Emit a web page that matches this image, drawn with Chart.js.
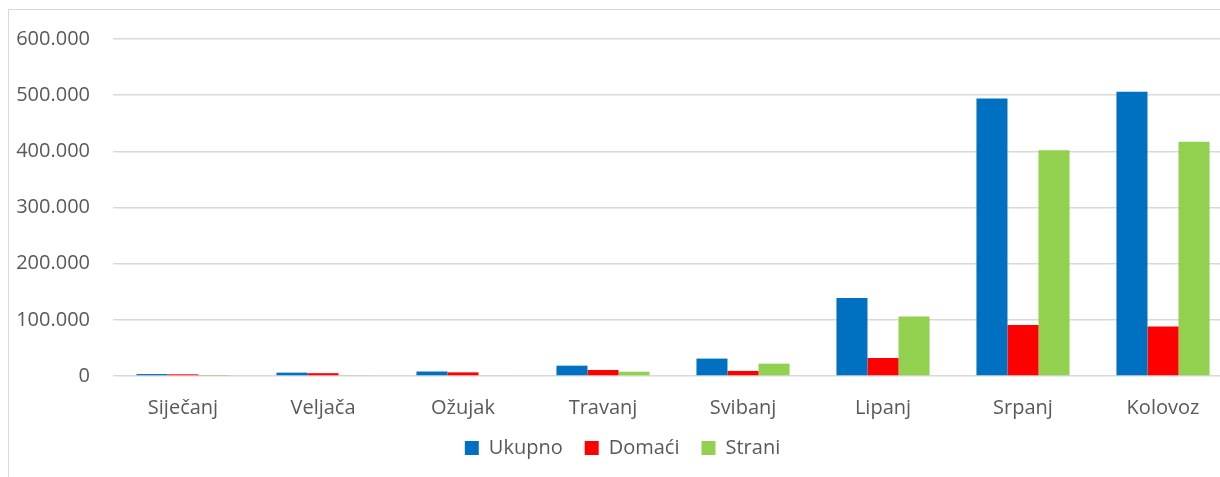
<!DOCTYPE html>
<html>
<head>
<meta charset="utf-8">
<script src="https://cdn.jsdelivr.net/npm/chart.js@4"></script>
<style>
  body { margin: 0; background: #fff; }
  #wrap { position: relative; width: 1220px; height: 477px; overflow: hidden; }
  #frame { position: absolute; left: 8px; top: 9px; width: 1300px; height: 600px; border-left: 1px solid #d9d9d9; border-top: 1px solid #d9d9d9; }
  canvas { position: absolute; left: 0; top: 0; }
</style>
</head>
<body>
<div id="wrap">
  <div id="frame"></div>
  <canvas id="barChart" width="1233" height="477"></canvas>
</div>
<script>
var months = ['Siječanj', 'Veljača', 'Ožujak', 'Travanj', 'Svibanj', 'Lipanj', 'Srpanj', 'Kolovoz'];
var ukupno = [3500, 6000, 8000, 18400, 31000, 139000, 494000, 506000];
var domaci = [3000, 5000, 6500, 10700, 9000, 32000, 91000, 88000];
var strani = [500, 1000, 1500, 7700, 22000, 106000, 402000, 417000];

var textColor = '#595959';
var fontFamily = '"Open Sans", sans-serif';

function dots(v) {
    return String(v).replace(/\B(?=(\d{3})+(?!\d))/g, '.');
}

// legend: take less room from the layout, then move it into place
var legendTweak = {
    id: 'legendTweak',
    beforeInit: function (chart) {
        var legend = chart.legend;
        if (!legend) return;
        var fit = legend.fit;
        legend.fit = function () {
            fit.call(this);
            this.height -= 16;
        };
    },
    afterLayout: function (chart) {
        var l = chart.legend;
        l.left += 6;
        l.right += 6;
        l.top -= 16;
    }
};

var ctx = document.getElementById('barChart').getContext('2d');
var myChart = new Chart(ctx, {
    type: 'bar',
    data: {
        labels: months,
        datasets: [{
            label: 'Ukupno',
            data: ukupno,
            backgroundColor: '#0070c0'
        }, {
            label: 'Domaći',
            data: domaci,
            backgroundColor: '#ff0000'
        }, {
            label: 'Strani',
            data: strani,
            backgroundColor: '#92d050'
        }]
    },
    plugins: [legendTweak],
    options: {
        responsive: false,
        animation: false,
        categoryPercentage: 0.665,
        barPercentage: 1,
        layout: {
            padding: { left: 0, right: 0, top: 39, bottom: 9 }
        },
        plugins: {
            tooltip: { enabled: false },
            legend: {
                position: 'bottom',
                labels: {
                    color: textColor,
                    font: { family: fontFamily, size: 20 },
                    boxWidth: 14,
                    boxHeight: 14,
                    padding: 22
                }
            }
        },
        scales: {
            x: {
                grid: { display: false },
                border: { display: false },
                ticks: {
                    color: textColor,
                    font: { family: fontFamily, size: 20 },
                    padding: 12
                }
            },
            y: {
                min: 0,
                max: 600000,
                grid: { color: '#d9d9d9', lineWidth: 1.5, drawTicks: false },
                border: { display: false },
                afterFit: function (scale) { scale.width = 113; },
                ticks: {
                    stepSize: 100000,
                    color: textColor,
                    font: { family: fontFamily, size: 20 },
                    padding: 23,
                    callback: function (v) { return dots(v); }
                }
            }
        }
    }
});
</script>
</body>
</html>
